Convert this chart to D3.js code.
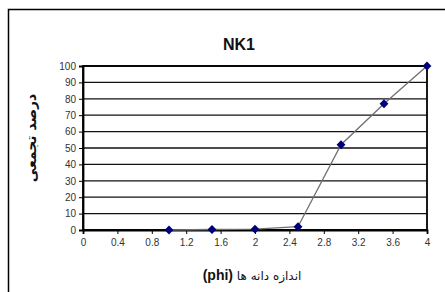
<!DOCTYPE html>
<html><head><meta charset="utf-8">
<script src="https://cdn.jsdelivr.net/npm/d3@7"></script>
<style>body{margin:0;background:#fff;} svg{display:block;font-family:Arial,"Liberation Sans",sans-serif;}</style>
</head><body>
<svg id="c" width="445" height="292"></svg>
<script>
const xValues = [1, 1.5, 2, 2.5, 3, 3.5, 4];
const yValues = [0, 0.3, 0.5, 2, 52, 77, 100];
const xTicks = [0, 0.4, 0.8, 1.2, 1.6, 2, 2.4, 2.8, 3.2, 3.6, 4];
const yTicks = [0, 10, 20, 30, 40, 50, 60, 70, 80, 90, 100];
const title = "NK1";
const xLabelFa = "اندازه دانه ها ";
const xLabelUnit = "(phi)";
const yLabel = "درصد تجمعی";

const svg = d3.select("#c");
const L = 83, R = 427, T = 66, B = 230;
const x = d3.scaleLinear().domain([0, 4]).range([L, R]);
const y = d3.scaleLinear().domain([0, 100]).range([B, T]);

// outer border
svg.append("rect").attr("x", 8.5).attr("y", 9.5).attr("width", 460).attr("height", 300)
  .attr("fill", "none").attr("stroke", "#000").attr("stroke-width", 1.5);

// gridlines
svg.append("g").selectAll("line").data(yTicks).join("line")
  .attr("x1", L).attr("x2", R).attr("y1", d => y(d)).attr("y2", d => y(d))
  .attr("stroke", "#111").attr("stroke-width", 1.3);

// plot frame
svg.append("rect").attr("x", L).attr("y", T).attr("width", R - L).attr("height", B - T)
  .attr("fill", "none").attr("stroke", "#000").attr("stroke-width", 1.8);

// axes
const yAxis = d3.axisLeft(y).tickValues(yTicks).tickSize(4).tickPadding(3);
const gy = svg.append("g").attr("transform", `translate(${L},0)`).call(yAxis);
gy.select(".domain").attr("stroke", "#000").attr("stroke-width", 1.8);
gy.selectAll(".tick line").attr("stroke", "#000");
gy.selectAll("text").attr("font-size", 10).attr("fill", "#333").attr("font-family", "Arial,'Liberation Sans',sans-serif");

const xAxis = d3.axisBottom(x).tickValues(xTicks).tickSize(4).tickPadding(5).tickFormat(d => String(d));
const gx = svg.append("g").attr("transform", `translate(0,${B})`).call(xAxis);
gx.select(".domain").attr("stroke", "#000").attr("stroke-width", 1.8);
gx.selectAll(".tick line").attr("stroke", "#000");
gx.selectAll("text").attr("font-size", 10).attr("fill", "#333").attr("font-family", "Arial,'Liberation Sans',sans-serif");

// line
const pts = xValues.map((v, i) => [v, yValues[i]]);
svg.append("path").datum(pts)
  .attr("d", d3.line().x(d => x(d[0])).y(d => y(d[1])))
  .attr("fill", "none").attr("stroke", "#707070").attr("stroke-width", 1.3);

// markers
svg.append("g").selectAll("path").data(pts).join("path")
  .attr("transform", d => `translate(${x(d[0])},${y(d[1])})`)
  .attr("d", d3.symbol(d3.symbolDiamond2, 50)())
  .attr("fill", "#00007a");

// title
svg.append("text").attr("x", 239).attr("y", 50).attr("text-anchor", "middle")
  .attr("font-size", 16).attr("font-weight", "bold").attr("fill", "#111").text(title);

// x label
const xl = svg.append("text").attr("x", 252).attr("y", 280).attr("text-anchor", "middle")
  .attr("direction", "rtl").attr("fill", "#111");
xl.append("tspan").attr("font-size", 12).attr("font-family", "'DejaVu Sans',sans-serif").text(xLabelFa);
xl.append("tspan").attr("font-size", 14).attr("font-weight", "bold").text(xLabelUnit);

// y label
svg.append("text").attr("transform", "translate(36,138) rotate(-90)").attr("text-anchor", "middle")
  .attr("direction", "rtl").attr("font-size", 14).attr("font-weight", "bold")
  .attr("font-family", "'DejaVu Sans',sans-serif").attr("fill", "#111").text(yLabel);
</script>
</body></html>
